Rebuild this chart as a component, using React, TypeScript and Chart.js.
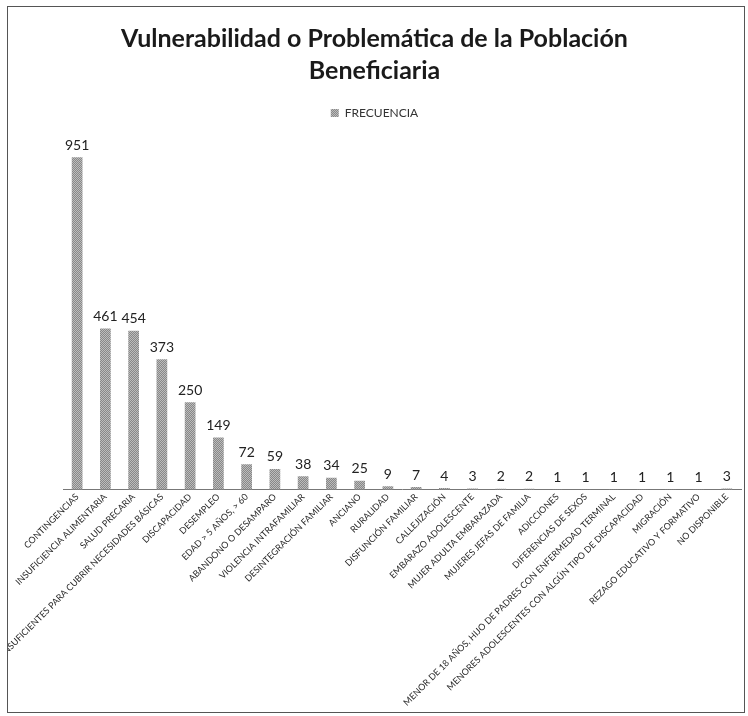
import React, { useEffect, useRef } from 'react';
import { Chart, registerables } from 'chart.js';

Chart.register(...registerables);

const categories: string[] = [
  'CONTINGENCIAS',
  'INSUFICIENCIA ALIMENTARIA',
  'SALUD PRECARIA',
  'INGRESOS INSUFICIENTES PARA CUBRIR NECESIDADES BÁSICAS',
  'DISCAPACIDAD',
  'DESEMPLEO',
  'EDAD > 5 AÑOS, > 60',
  'ABANDONO O DESAMPARO',
  'VIOLENCIA INTRAFAMILIAR',
  'DESINTEGRACIÓN FAMILIAR',
  'ANCIANO',
  'RURALIDAD',
  'DISFUNCIÓN FAMILIAR',
  'CALLEJIZACIÓN',
  'EMBARAZO ADOLESCENTE',
  'MUJER ADULTA EMBARAZADA',
  'MUJERES JEFAS DE FAMILIA',
  'ADICCIONES',
  'DIFERENCIAS DE SEXOS',
  'MENOR DE 18 AÑOS, HIJO DE PADRES CON ENFERMEDAD TERMINAL',
  'MENORES ADOLESCENTES CON ALGÚN TIPO DE DISCAPACIDAD',
  'MIGRACIÓN',
  'REZAGO EDUCATIVO Y FORMATIVO',
  'NO DISPONIBLE',
];

const frecuencia: number[] = [
  951, 461, 454, 373, 250, 149, 72, 59, 38, 34, 25, 9, 7, 4, 3, 2, 2, 1, 1, 1, 1, 1, 1, 3,
];

const seriesName = 'FRECUENCIA';
const titleLines = ['Vulnerabilidad o Problemática de la Población', 'Beneficiaria'];
const yMin = 0;
const yMax = 1000;

export default function App() {
  const ref = useRef<HTMLCanvasElement>(null);

  useEffect(() => {
    const canvas = ref.current;
    if (!canvas) return;
    const pc = document.createElement('canvas');
    pc.width = 2;
    pc.height = 2;
    const pctx = pc.getContext('2d')!;
    pctx.fillStyle = '#bcbcbc';
    pctx.fillRect(0, 0, 2, 2);
    pctx.fillStyle = '#888888';
    pctx.fillRect(0, 0, 1, 1);
    pctx.fillRect(1, 1, 1, 1);
    const pattern = canvas.getContext('2d')!.createPattern(pc, 'repeat');

    const valueLabels = {
      id: 'valueLabels',
      afterDatasetsDraw(chart: any) {
        const ctx = chart.ctx;
        const meta = chart.getDatasetMeta(0);
        ctx.save();
        ctx.font = '14px Lato';
        ctx.fillStyle = '#222';
        ctx.textAlign = 'center';
        ctx.textBaseline = 'bottom';
        meta.data.forEach((el: any, i: number) => {
          const { x, y } = el.getProps(['x', 'y'], true);
          ctx.fillText(String(frecuencia[i]), x, y - 5);
        });
        ctx.restore();
      },
    };

    const legendGap = {
      id: 'legendGap',
      beforeLayout(chart: any) {
        const lg = chart.legend;
        if (lg && !lg._gapPatched) {
          const fit = lg.fit;
          lg.fit = function () {
            fit.call(this);
            this.height += 11;
          };
          lg._gapPatched = true;
        }
      },
    };

    Chart.defaults.font.family = 'Lato';

    const chart = new Chart(canvas, {
      type: 'bar',
      data: {
        labels: categories,
        datasets: [
          {
            label: seriesName,
            data: frecuencia,
            backgroundColor: pattern as any,
            borderWidth: 0,
            categoryPercentage: 1,
            barPercentage: 0.38,
          },
        ],
      },
      options: {
        responsive: false,
        animation: false,
        layout: { padding: { left: 0, right: 3, top: 0, bottom: 2 } },
        plugins: {
          title: {
            display: true,
            text: titleLines,
            color: '#1a1a1a',
            font: { size: 25, weight: 'bold', family: 'Lato', lineHeight: 1.28 },
            padding: { top: 16, bottom: 12 },
          },
          legend: {
            display: true,
            position: 'top',
            labels: {
              boxWidth: 8,
              boxHeight: 8,
              color: '#333',
              font: { size: 12 },
              padding: 8,
            },
          },
          tooltip: { enabled: false },
        },
        scales: {
          x: {
            offset: true,
            grid: { display: false, drawTicks: false },
            border: { display: true, color: '#777', dash: [1, 2], width: 1 },
            ticks: {
              autoSkip: false,
              maxRotation: 45,
              minRotation: 45,
              padding: 2,
              color: '#2a2a2a',
              font: { size: 9 },
            },
          },
          y: {
            display: true,
            min: yMin,
            max: yMax,
            grid: { display: false, drawTicks: false },
            border: { display: false },
            ticks: { display: false },
            afterFit(scale: any) {
              scale.width = 55;
            },
          },
        },
      },
      plugins: [valueLabels, legendGap],
    });
    return () => chart.destroy();
  }, []);

  return (
    <div style={{ position: 'absolute', left: 0, top: 0, width: 748, height: 716, background: '#fff', overflow: 'hidden' }}>
      <div style={{ position: 'absolute', left: 7, top: 6, width: 736, height: 705, border: '1px solid #555' }} />
      <canvas ref={ref} width={736} height={705} style={{ position: 'absolute', left: 8, top: 7 }} />
    </div>
  );
}
